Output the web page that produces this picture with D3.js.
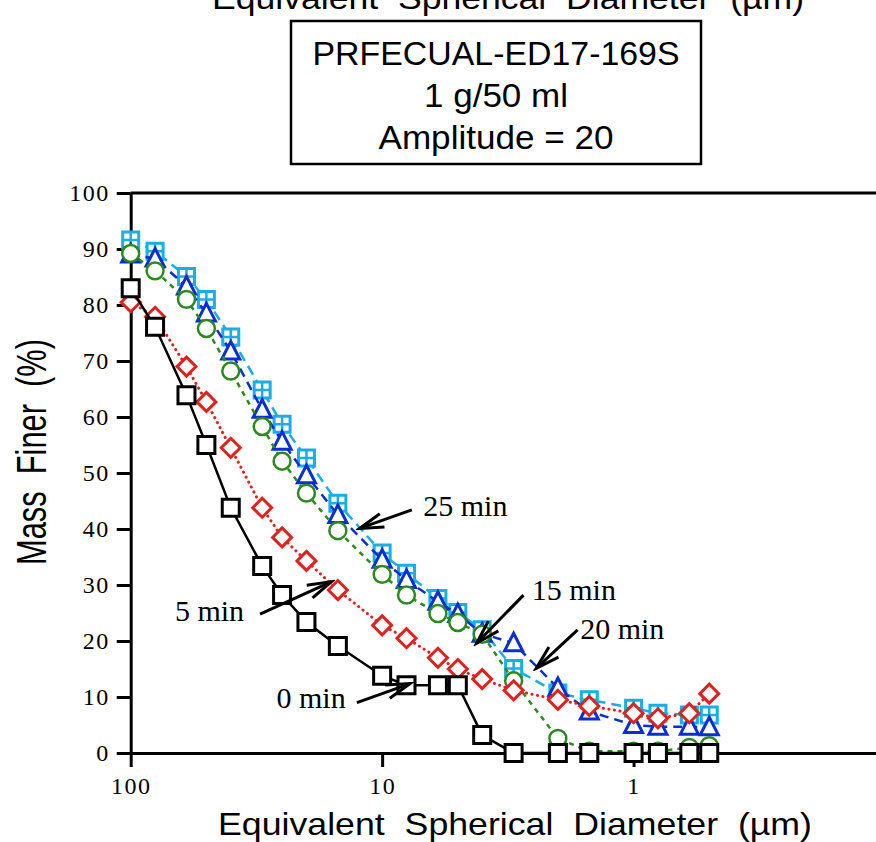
<!DOCTYPE html>
<html>
<head>
<meta charset="utf-8">
<script src="https://cdn.jsdelivr.net/npm/d3@7"></script>
<style>
    html, body { margin: 0; padding: 0; background: #ffffff; }
    svg { display: block; }
</style>
</head>
<body>
<div id="chart"></div>
<script>
    "use strict";

    // Diameters (um) shared by every run
    const diameters = [100, 80, 60, 50, 40, 30, 25, 20, 15, 10, 8, 6, 5, 4, 3, 2, 1.5, 1, 0.8, 0.6, 0.5];

    // Mass finer (%) per sonication time
    const min0 = [83.0, 76.1, 63.9, 55.0, 43.8, 33.4, 28.2, 23.4, 19.1, 13.8, 12.1, 12.1, 12.1, 3.2, 0, 0, 0, 0, 0, 0, 0];
    const min5 = [80.5, 77.9, 69.0, 62.7, 54.5, 43.8, 38.5, 34.3, 29.1, 22.8, 20.5, 17.0, 15.0, 13.2, 11.2, 9.5, 8.4, 7.1, 6.2, 7.1, 10.6];
    const min15 = [89.2, 86.1, 81.0, 75.8, 68.2, 58.3, 52.1, 46.4, 39.7, 31.9, 28.2, 24.9, 23.3, 21.2, 12.9, 2.6, 0.3, 0.3, 0.3, 1.0, 1.3];
    const min20 = [89.0, 88.3, 83.3, 78.5, 71.7, 61.3, 55.6, 49.6, 42.5, 34.5, 30.9, 27.0, 24.8, 21.3, 19.6, 11.6, 7.4, 5.0, 4.7, 4.7, 4.6];
    const min25 = [91.6, 89.6, 85.1, 81.0, 74.3, 64.8, 58.7, 52.7, 44.6, 35.7, 32.1, 27.6, 25.1, 22.0, 15.1, 10.7, 9.5, 8.0, 7.1, 6.8, 6.8];

    const xTicks = [100, 10, 1];
    const yTicks = [0, 10, 20, 30, 40, 50, 60, 70, 80, 90, 100];

    const infoLines = ["PRFECUAL-ED17-169S", "1 g/50 ml", "Amplitude = 20"];

    // Annotation labels: text anchor, arrow tail and arrow tip in data units
    const labels = [
        { text: "25 min", tx: 6.86, ty: 42.4, ax: 7.62, ay: 43.4, bx: 12.3, by: 40.1 },
        { text: "15 min", tx: 2.54, ty: 27.3, ax: 2.74, ay: 28.2, bx: 4.21, by: 19.6 },
        { text: "20 min", tx: 1.63, ty: 20.3, ax: 1.67, ay: 22.0, bx: 2.44, by: 15.1 },
        { text: "5 min", tx: 66.7, ty: 23.6, ax: 30.6, ay: 24.8, bx: 15.9, by: 30.6 },
        { text: "0 min", tx: 26.3, ty: 8.0, ax: 12.6, ay: 9.0, bx: 7.74, by: 12.4 }
    ];

    const W = 876;
    const H = 842;
    const sans = "'Liberation Sans', Arial, Helvetica, sans-serif";
    const serif = "'Liberation Serif', 'Times New Roman', serif";

    const svg = d3.select("#chart")
        .append("svg")
        .attr("width", W)
        .attr("height", H)
        .attr("viewBox", [0, 0, W, H]);

    const x = d3.scaleLog().domain([100, 0.1]).range([130.7, 885]);
    const y = d3.scaleLinear().domain([0, 100]).range([753, 193]);

    // frame top edge
    svg.append("line")
        .attr("x1", x(100)).attr("x2", x(0.1))
        .attr("y1", y(100)).attr("y2", y(100))
        .attr("stroke", "#000").attr("stroke-width", 3);

    svg.append("line")
        .attr("x1", x(0.1)).attr("x2", x(0.1))
        .attr("y1", y(100)).attr("y2", y(0))
        .attr("stroke", "#000").attr("stroke-width", 3);

    const yAxis = svg.append("g")
        .attr("transform", `translate(${x(100)},0)`)
        .call(d3.axisLeft(y).tickValues(yTicks).tickSize(14).tickSizeOuter(0).tickPadding(7));

    const xAxis = svg.append("g")
        .attr("transform", `translate(0,${y(0)})`)
        .call(d3.axisBottom(x).tickValues(xTicks).tickFormat(d3.format("")).tickSize(14).tickSizeOuter(0).tickPadding(10));

    [xAxis, yAxis].forEach((g) => {
        g.select(".domain").attr("stroke", "#000").attr("stroke-width", 3);
        g.selectAll(".tick line").attr("stroke", "#000").attr("stroke-width", 3);
        g.selectAll(".tick text")
            .attr("fill", "#000")
            .style("font-family", serif)
            .style("font-size", "24px")
            .style("letter-spacing", "1.5px");
    });

    // axis titles
    svg.append("text")
        .attr("x", 515).attr("y", 835)
        .attr("text-anchor", "middle")
        .attr("textLength", 594)
        .attr("lengthAdjust", "spacingAndGlyphs")
        .style("font-family", sans).style("font-size", "32px").style("white-space", "pre")
        .text("Equivalent  Spherical  Diameter  (\u00b5m)");

    svg.append("text")
        .attr("x", 508).attr("y", 9)
        .attr("text-anchor", "middle")
        .attr("textLength", 592)
        .attr("lengthAdjust", "spacingAndGlyphs")
        .style("font-family", sans).style("font-size", "32px").style("white-space", "pre")
        .text("Equivalent  Spherical  Diameter  (\u00b5m)");

    svg.append("text")
        .attr("transform", "translate(46,452) rotate(-90)")
        .attr("text-anchor", "middle")
        .attr("textLength", 226)
        .attr("lengthAdjust", "spacingAndGlyphs")
        .style("font-family", sans).style("font-size", "42px").style("white-space", "pre")
        .text("Mass  Finer  (%)");

    // info box
    svg.append("rect")
        .attr("x", 291).attr("y", 21)
        .attr("width", 410).attr("height", 143)
        .attr("fill", "#fff").attr("stroke", "#000").attr("stroke-width", 2.5);

    const boxWidths = [367, 144, 235];
    svg.selectAll(".info")
        .data(infoLines)
        .join("text")
        .attr("class", "info")
        .attr("x", 496)
        .attr("y", (d, i) => 65 + i * 42)
        .attr("text-anchor", "middle")
        .attr("textLength", (d, i) => boxWidths[i])
        .attr("lengthAdjust", "spacingAndGlyphs")
        .style("font-family", sans).style("font-size", "33px")
        .text((d) => d);

    const series = [
        { values: min25, color: "#1aaee6", dash: "10,6", shape: "grid" },
        { values: min20, color: "#0a2ed2", dash: "9,6", shape: "triangle" },
        { values: min15, color: "#2b8a1e", dash: "5,5", shape: "circle" },
        { values: min5, color: "#e0221e", dash: "0.1,5.5", shape: "diamond", cap: "round" },
        { values: min0, color: "#000000", dash: null, shape: "square" }
    ];

    const line = d3.line()
        .x((d) => x(d[0]))
        .y((d) => y(d[1]));

    function markerPath(shape) {
        if (shape === "square") {
            return "M-8.5,-8.5H8.5V8.5H-8.5Z";
        }
        if (shape === "grid") {
            return "M-8,-8H8V8H-8Z";
        }
        if (shape === "diamond") {
            return "M0,-9.5L9.5,0L0,9.5L-9.5,0Z";
        }
        if (shape === "triangle") {
            return "M0,-10L9,7.5H-9Z";
        }
        return d3.symbol(d3.symbolCircle, 225)();
    }

    const plot = svg.append("g");

    series.forEach((s) => {
        const pts = diameters.map((d, i) => [d, s.values[i]]);
        const g = plot.append("g");

        g.append("path")
            .attr("d", line(pts))
            .attr("fill", "none")
            .attr("stroke", s.color)
            .attr("stroke-width", s.cap ? 3 : 2.5)
            .attr("stroke-linecap", s.cap || "butt")
            .attr("stroke-dasharray", s.dash);

        const m = g.selectAll("g.mk")
            .data(pts)
            .join("g")
            .attr("class", "mk")
            .attr("transform", (d) => `translate(${x(d[0])},${y(d[1])})`);

        m.append("path")
            .attr("d", markerPath(s.shape))
            .attr("fill", "#fff")
            .attr("stroke", s.color)
            .attr("stroke-width", s.shape === "circle" ? 2.5 : 3);

        if (s.shape === "grid") {
            m.append("path")
                .attr("d", "M0,-8V8M-8,0H8")
                .attr("stroke", s.color)
                .attr("stroke-width", 2.5);
        }
    });

    // arrow annotations
    svg.append("defs").append("marker")
        .attr("id", "head")
        .attr("markerUnits", "userSpaceOnUse")
        .attr("viewBox", "-26 -10 30 20")
        .attr("markerWidth", 30).attr("markerHeight", 20)
        .attr("refX", 0).attr("refY", 0)
        .attr("orient", "auto")
        .append("path")
        .attr("d", "M-24,-7L0,0L-24,7")
        .attr("fill", "none")
        .attr("stroke", "#000")
        .attr("stroke-width", 3);

    const notes = svg.append("g");
    labels.forEach((a) => {
        notes.append("line")
            .attr("x1", x(a.ax)).attr("y1", y(a.ay))
            .attr("x2", x(a.bx)).attr("y2", y(a.by))
            .attr("stroke", "#000").attr("stroke-width", 3)
            .attr("marker-end", "url(#head)");
        notes.append("text")
            .attr("x", x(a.tx)).attr("y", y(a.ty))
            .style("font-family", serif).style("font-size", "30px")
            .text(a.text);
    });
</script>
</body>
</html>
